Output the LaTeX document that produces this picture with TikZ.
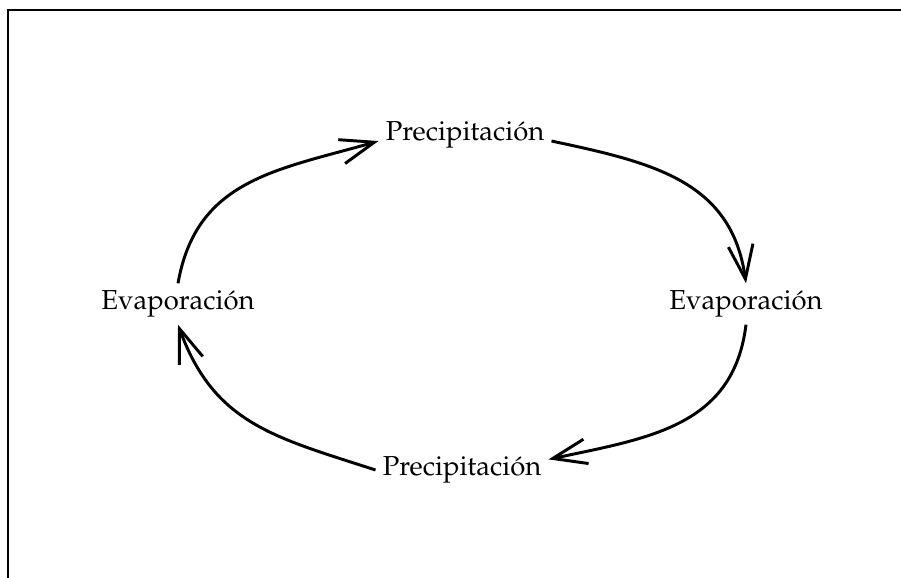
\documentclass[tikz,border=0pt]{standalone}
\usepackage[T1]{fontenc}
\usepackage{mathpazo}
\usetikzlibrary{arrows.meta}

\begin{document}
\begin{tikzpicture}[x=0.025cm,y=0.025cm,
    etapa/.style={inner sep=5pt,font=\fontsize{19.5}{23}\selectfont},
    flujo/.style={line width=2.1pt,-{Straight Barb[length=0.85cm,width=0.62cm]}}]
            \useasboundingbox (0,0) rectangle (901,578);
            \draw[line width=1pt] (8,568) rectangle (940,-30);

            \node[etapa] (precT) at (465,443) {Precipitaci\'on};
            \node[etapa] (evapR) at (746,274) {Evaporaci\'on};
            \node[etapa] (precB) at (462,108) {Precipitaci\'on};
            \node[etapa] (evapL) at (178,274) {Evaporaci\'on};

            \draw[flujo] (evapL.north) to[out=80,in=196,looseness=1.1] (precT.184);
            \draw[flujo] (precT.-4) to[out=-12,in=98,looseness=1.1] (evapR.north);
            \draw[flujo] (evapR.south) to[out=-97,in=12,looseness=1.1] (precB.7);
            \draw[flujo] (precB.west) to[out=162,in=-70,looseness=1.1] (evapL.south);
        \end{tikzpicture}
\end{document}
